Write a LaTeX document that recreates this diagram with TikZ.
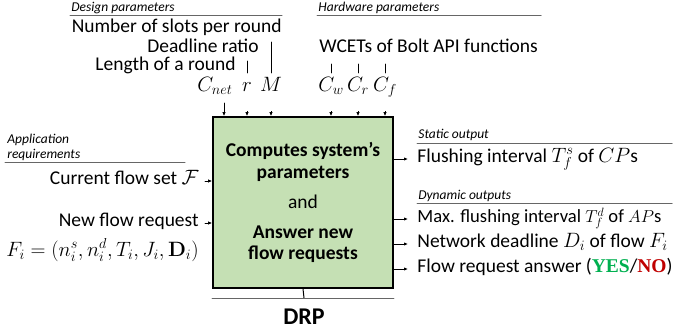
\documentclass[tikz,border=0pt]{standalone}
\usepackage[no-math]{fontspec}
\setmainfont{Carlito}
\newfontfamily\answerfont{Liberation Serif}
\usetikzlibrary{arrows.meta}
\definecolor{drpfill}{HTML}{C5E0B4}
\definecolor{yesgreen}{HTML}{00B050}
\definecolor{nored}{HTML}{C00000}

\begin{document}
\begin{tikzpicture}[%
        x = 1pt, y = -1pt,
        line width = 0.8pt,
        line cap = round,
        > = {Latex[length = 4pt, width = 3.4pt]},
        every node/.style = {inner sep = 0pt, font = \fontsize{19.5}{22}\selectfont},
        heading/.style = {anchor = base west, font = \fontsize{13.5}{16}\selectfont\itshape},
        headrule/.style = {draw = black!60, line width = 1pt},
        label/.style = {text height = 10pt, text depth = 3pt},
        sym/.style = {anchor = base, text height = 12pt, text depth = 4pt},
        feed/.style = {->, shorten <= 16pt},
        tick/.style = {line width = 0.9pt}
    ]
        \useasboundingbox (0, 0) rectangle (674, 330);

        % The DRP box itself.
        \node[draw, line width = 1.6pt, fill = drpfill, minimum width = 180pt,
            minimum height = 171pt, align = center,
            font = \fontsize{19.5}{21.5}\selectfont\bfseries] (drp) at (303, 202.5)
            {Computes system's\\parameters\\[8.5pt]{\mdseries and}\\[8.5pt]Answer new\\flow requests};
        \coordinate (drpbar) at (304, 298);
        \draw[line width = 1pt] (drp.south) to (drpbar);
        \draw[headrule] (drpbar -| drp.west) to (drpbar -| drp.east);
        \node[anchor = base, font = \fontsize{24}{28}\selectfont\bfseries] (drpname) at (304, 324) {DRP};

        % Design parameters.
        \node[heading] (design) at (71, 11) {Design parameters};
        \draw[headrule] (70, 15) to (282, 15);
        \node[anchor = base east] (slots) at (282, 32) {Number of slots per round};
        \node[anchor = base east] (ratio) at (259, 52) {Deadline ratio};
        \node[anchor = base east] (length) at (236, 70) {Length of a round};
        \node[sym] (cnet) at (215, 91) {$C_{net}$};
        \node[sym] (r) at (247, 91) {$r$};
        \node[sym] (m) at (271, 91) {$M$};
        \draw[tick] (r |- 0, 61) to (r |- 0, 73);
        \draw[tick] (m |- 0, 42) to (m |- 0, 73);

        % Hardware parameters.
        \node[heading] (hardware) at (318, 11) {Hardware parameters};
        \draw[headrule] (317, 15) to (541, 15);
        \node[anchor = base west] (wcet) at (319, 52) {WCETs of Bolt API functions};
        \node[sym] (cw) at (331, 91) {$C_w$};
        \node[sym] (cr) at (358, 91) {$C_r$};
        \node[sym] (cf) at (385, 91) {$C_f$};
        \foreach \n in {cw, cr, cf}
            \draw[tick] (\n |- 0, 64) to (\n |- 0, 73);

        % Arrows into the top of the box.
        \draw[feed] ([xshift = 9pt]cnet.center) to ([xshift = 9pt]cnet.center |- drp.north);
        \foreach \n in {r, m, cw, cr, cf}
            \draw[feed] (\n) to (\n |- drp.north);

        % Application requirements.
        \node[heading] (app) at (7, 143) {Application};
        \node[heading] (req) at (7, 158) {requirements};
        \draw[headrule] (5, 162) to (185, 162);
        \node[label, anchor = east, inner xsep = 6pt] (current) at (205, 181) {Current flow set $\mathcal{F}$};
        \node[label, anchor = east, inner xsep = 6pt] (new) at (205, 223) {New flow request};
        \node[anchor = base east] (fi) at (199, 256)
            {$F_i = \bigl(n_i^s, n_i^d, T_i, J_i, \mathbf{D}_i\bigr)$};
        \draw[->] (current) to (current -| drp.west);
        \draw[->] (new) to (new -| drp.west);

        % Static output.
        \node[heading] (static) at (418, 138) {Static output};
        \draw[headrule] (417, 143) to (672, 143);
        \node[label, anchor = west, inner xsep = 9pt] (flush) at (408, 159)
            {Flushing interval $T_f^s$ of $CP$s};

        % Dynamic outputs.
        \node[heading] (dynamic) at (418, 199) {Dynamic outputs};
        \draw[headrule] (417, 203) to (672, 203);
        \node[label, anchor = west, inner xsep = 9pt, font = \fontsize{18.6}{22}\selectfont] (maxflush) at (408, 219)
            {Max. flushing interval $T_f^d$ of $AP$s};
        \node[label, anchor = west, inner xsep = 9pt] (deadline) at (408, 244)
            {Network deadline $D_i$ of flow $F_i$};
        \node[label, anchor = west, inner xsep = 9pt] (answer) at (408, 269)
            {Flow request answer (\textcolor{yesgreen}{\answerfont\bfseries YES}/\textcolor{nored}{\answerfont\bfseries NO})};

        % Arrows out of the box.
        \foreach \n in {flush, maxflush, deadline, answer}
            \draw[->] (\n -| drp.east) to (\n.west);
    \end{tikzpicture}
\end{document}
